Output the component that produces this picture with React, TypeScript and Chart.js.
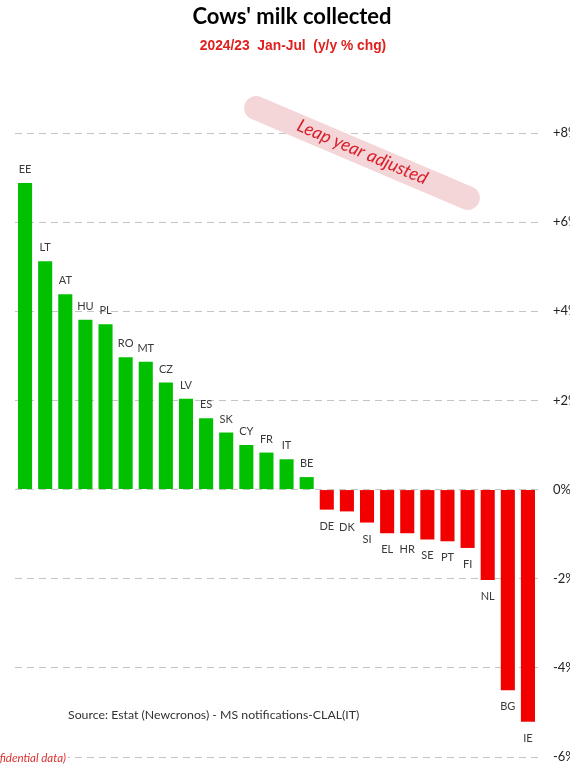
import React, { useEffect, useRef } from "react";
import { Chart, registerables } from "chart.js";

Chart.register(...registerables);

const categories = ["EE","LT","AT","HU","PL","RO","MT","CZ","LV","ES","SK","CY","FR","IT","BE","DE","DK","SI","EL","HR","SE","PT","FI","NL","BG","IE"];
const values = [6.88,5.12,4.38,3.81,3.71,2.97,2.87,2.40,2.04,1.60,1.28,1.00,0.83,0.68,0.28,-0.45,-0.49,-0.74,-0.98,-0.98,-1.12,-1.16,-1.31,-2.03,-4.50,-5.21];
const yTicks = [-6, -4, -2, 0, 2, 4, 6, 8];
const titleText = "Cows' milk collected";
const subtitleText = "2024/23  Jan-Jul  (y/y % chg)";
const noteText = "Leap year adjusted";
const sourceText = "Source: Estat (Newcronos) - MS notifications-CLAL(IT)";
const confText = "(Confidential data)";

const GREEN = "#00c000";
const RED = "#f20000";

const textPlugin = {
  id: "textPlugin",
  afterDatasetsDraw(chart: any) {
    const ctx = chart.ctx;
    const meta = chart.getDatasetMeta(0);
    ctx.save();
    ctx.font = "11px Lato";
    ctx.fillStyle = "#3a3a3a";
    ctx.textAlign = "center";
    ctx.textBaseline = "alphabetic";
    meta.data.forEach((bar: any, i: number) => {
      const v = values[i];
      if (v >= 0) ctx.fillText(categories[i], bar.x, bar.y - 10);
      else ctx.fillText(categories[i], bar.x, bar.y + 20);
    });
    ctx.restore();
  },
  afterDraw(chart: any) {
    const ctx = chart.ctx;
    ctx.save();
    // title
    ctx.textAlign = "center";
    ctx.textBaseline = "middle";
    ctx.fillStyle = "#000";
    ctx.font = "bold 22px Lato";
    ctx.fillText(titleText, 292, 17);
    ctx.fillStyle = "#e0201e";
    ctx.font = "bold 13.8px 'Liberation Sans'";
    ctx.fillText(subtitleText, 293, 46);
    // pill note
    ctx.save();
    ctx.translate(362, 153);
    ctx.rotate((23 * Math.PI) / 180);
    ctx.fillStyle = "#f4d6d8";
    ctx.beginPath();
    (ctx as any).roundRect(-127, -12, 254, 24, 12);
    ctx.fill();
    ctx.fillStyle = "#d8202c";
    ctx.font = "italic 18px Lato";
    ctx.textAlign = "center";
    ctx.textBaseline = "middle";
    ctx.fillText(noteText, 0, -1);
    ctx.restore();
    // source
    ctx.fillStyle = "#333";
    ctx.font = "12.3px Lato";
    ctx.textAlign = "left";
    ctx.textBaseline = "middle";
    ctx.fillText(sourceText, 68, 715);
    // confidential
    ctx.fillStyle = "#fff";
    ctx.fillRect(0, 750, 68, 15);
    ctx.fillStyle = "#d83030";
    ctx.font = "italic 11.5px Lato";
    ctx.textAlign = "right";
    ctx.fillText(confText, 66, 758);
    ctx.restore();
  },
};

export default function App() {
  const ref = useRef<HTMLCanvasElement>(null);
  useEffect(() => {
    if (!ref.current) return;
    const chart = new Chart(ref.current, {
      type: "bar",
      data: {
        labels: categories,
        datasets: [
          {
            data: values,
            backgroundColor: values.map((v) => (v >= 0 ? GREEN : RED)),
            barPercentage: 0.7,
            categoryPercentage: 1,
          },
        ],
      },
      options: {
        animation: false,
        responsive: false,
        devicePixelRatio: 1,
        layout: { padding: { left: 15, top: 133, bottom: 8, right: 0 } },
        plugins: { legend: { display: false }, tooltip: { enabled: false }, title: { display: false } },
        scales: {
          x: { display: false, grid: { display: false } },
          y: {
            position: "right",
            min: -6,
            max: 8,
            afterBuildTicks: (scale: any) => {
              scale.ticks = yTicks.map((v) => ({ value: v }));
            },
            afterFit: (scale: any) => {
              scale.width = 62;
              scale.paddingTop = 0;
              scale.paddingBottom = 0;
            },
            ticks: {
              padding: 15,
              color: "#222",
              font: { family: "Lato", size: 13 },
              callback: (v: any) => (v > 0 ? "+" + v + "%" : v + "%"),
            },
            grid: { color: "#c4c4c4", lineWidth: 1, drawTicks: false, borderDash: [7, 5] } as any,
            border: { display: false, dash: [7, 5] },
          },
        },
      },
      plugins: [textPlugin],
    });
    return () => chart.destroy();
  }, []);
  return (
    <div style={{ position: "fixed", left: 0, top: 0, width: 570, height: 765, overflow: "hidden", background: "#fff" }}>
      <canvas ref={ref} width={600} height={765} style={{ display: "block" }} />
    </div>
  );
}
